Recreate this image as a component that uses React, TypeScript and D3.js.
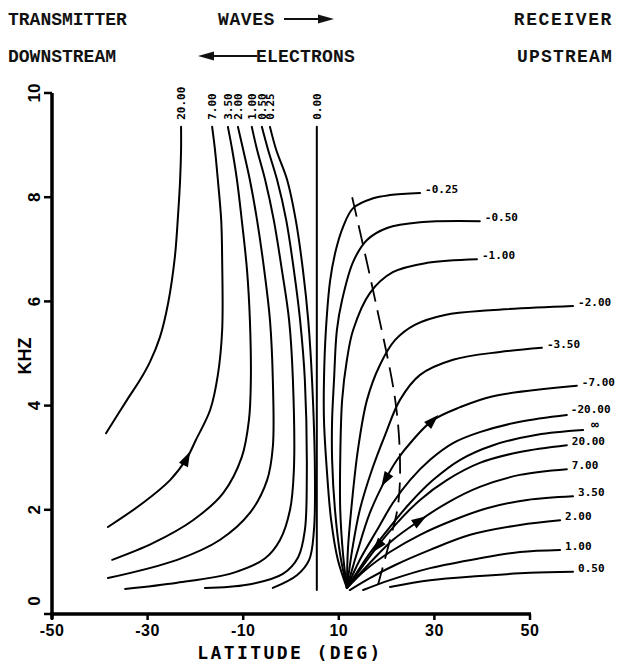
import React from "react";
import * as d3 from "d3";

type Pt = [number, number];

// ---- axes ----
const LAT_TICKS = [-50, -30, -10, 10, 30, 50];
const KHZ_TICKS = [0, 2, 4, 6, 8, 10];

// ---- header captions ----
const HEADER_LEFT = ["TRANSMITTER", "DOWNSTREAM"];
const HEADER_MID = ["WAVES", "ELECTRONS"];
const HEADER_RIGHT = ["RECEIVER", "UPSTREAM"];

// ---- contours that rise to the top edge (latitude deg, kHz) ----
const W_LABELS = ["20.00", "7.00", "3.50", "2.00", "1.00", "0.50", "0.25", "0.00"];
const W_2000: Pt[] = [[-23.0, 9.35], [-23.0, 8.91], [-23.2, 8.33], [-23.6, 7.7], [-24.3, 6.85], [-25.7, 5.97], [-27.4, 5.32], [-29.5, 4.84], [-31.6, 4.49], [-34.3, 4.11], [-38.7, 3.47]];
const W_700: Pt[] = [[-16.5, 9.35], [-15.9, 8.91], [-15.3, 8.33], [-14.6, 7.56], [-14.4, 6.79], [-14.4, 5.45], [-15.3, 4.59], [-16.9, 3.92], [-19.9, 3.34], [-21.8, 2.99], [-25.3, 2.57], [-31.0, 2.13], [-38.3, 1.67]];
const W_350: Pt[] = [[-13.2, 9.35], [-12.3, 8.91], [-11.3, 8.33], [-10.3, 7.56], [-9.2, 6.6], [-8.6, 5.64], [-8.4, 4.49], [-8.8, 3.72], [-10.3, 3.01], [-14.2, 2.32], [-20.5, 1.8], [-28.9, 1.36], [-37.4, 1.04]];
const W_200: Pt[] = [[-11.1, 9.35], [-10.0, 8.91], [-8.6, 8.33], [-7.1, 7.56], [-5.6, 6.6], [-4.4, 5.64], [-3.8, 4.49], [-3.8, 3.21], [-5.0, 2.57], [-8.6, 1.94], [-14.9, 1.42], [-23.8, 1.04], [-38.3, 0.69]];
const W_100: Pt[] = [[-8.2, 9.35], [-7.1, 8.91], [-5.4, 8.33], [-3.6, 7.56], [-1.9, 6.6], [-0.4, 5.64], [0.4, 4.49], [0.6, 2.76], [-0.2, 2.0], [-2.3, 1.42], [-5.4, 1.07], [-12.1, 0.79], [-23.8, 0.6], [-34.7, 0.48]];
const W_050: Pt[] = [[-6.1, 9.35], [-4.8, 8.91], [-2.9, 8.33], [-1.0, 7.56], [0.6, 6.6], [1.9, 5.64], [2.9, 4.49], [3.3, 2.57], [2.9, 1.61], [1.5, 1.09], [-1.7, 0.77], [-9.2, 0.56], [-18.0, 0.5]];
const W_025: Pt[] = [[-4.4, 9.35], [-3.1, 8.91], [-0.8, 8.33], [1.0, 7.56], [2.5, 6.6], [3.6, 5.64], [4.4, 4.49], [5.0, 2.76], [4.8, 1.61], [3.8, 1.04], [1.3, 0.75], [-3.8, 0.5]];
const W_000: Pt[] = [[5.4, 9.35], [5.4, 0.46]];

// ---- contours that fan out to the right edge ----
const E_LABELS = ["-0.25", "-0.50", "-1.00", "-2.00", "-3.50", "-7.00", "-20.00", "\u221E", "20.00", "7.00", "3.50", "2.00", "1.00", "0.50"];
const E_M025: Pt[] = [[11.7, 0.5], [9.8, 1.04], [8.4, 1.8], [7.5, 2.76], [6.9, 3.72], [6.9, 4.49], [7.3, 5.45], [8.2, 6.41], [9.4, 6.99], [10.9, 7.43], [13.0, 7.79], [17.2, 7.98], [20.7, 8.04], [27.0, 8.08]];
const E_M050: Pt[] = [[11.7, 0.5], [10.3, 1.13], [9.2, 2.0], [8.6, 2.96], [8.6, 3.72], [9.0, 4.49], [9.6, 5.45], [10.7, 6.03], [13.0, 6.76], [15.9, 7.18], [20.1, 7.41], [27.0, 7.52], [39.5, 7.54]];
const E_M100: Pt[] = [[11.7, 0.5], [10.9, 1.13], [10.3, 2.0], [10.3, 2.96], [10.7, 4.11], [11.7, 4.88], [13.0, 5.45], [16.5, 6.16], [21.3, 6.56], [28.5, 6.74], [38.9, 6.81]];
const E_M200: Pt[] = [[11.7, 0.5], [11.9, 1.23], [12.8, 2.19], [14.0, 3.15], [15.9, 4.11], [18.6, 4.78], [21.8, 5.26], [25.9, 5.55], [32.2, 5.74], [41.6, 5.83], [59.0, 5.91]];
const E_M350: Pt[] = [[11.7, 0.5], [12.8, 1.23], [14.4, 2.0], [16.9, 2.76], [19.7, 3.44], [22.8, 4.11], [27.0, 4.59], [33.9, 4.88], [43.7, 5.03], [52.5, 5.11]];
const E_M700: Pt[] = [[11.7, 0.5], [13.8, 1.17], [16.5, 1.94], [19.7, 2.57], [22.2, 2.96], [25.5, 3.34], [29.7, 3.72], [35.4, 3.97], [42.3, 4.18], [59.8, 4.38]];
const E_M2000: Pt[] = [[11.7, 0.5], [14.4, 1.04], [18.0, 1.61], [21.3, 2.13], [24.9, 2.57], [29.1, 2.96], [33.9, 3.28], [39.5, 3.49], [47.9, 3.69], [57.7, 3.82]];
const E_INF: Pt[] = [[11.7, 0.5], [16.5, 1.17], [20.7, 1.67], [24.9, 2.13], [29.7, 2.57], [35.4, 2.96], [42.3, 3.24], [51.5, 3.44], [61.1, 3.53]];
const E_P2000: Pt[] = [[11.7, 0.5], [18.0, 1.29], [22.2, 1.75], [27.0, 2.19], [32.6, 2.57], [39.5, 2.9], [47.9, 3.11], [57.7, 3.24]];
const E_P700: Pt[] = [[11.7, 0.5], [16.5, 0.98], [21.3, 1.42], [27.0, 1.8], [32.6, 2.13], [39.5, 2.44], [47.9, 2.67], [57.7, 2.78]];
const E_P350: Pt[] = [[11.7, 0.5], [15.5, 0.84], [20.7, 1.19], [27.0, 1.52], [33.9, 1.8], [41.0, 2.03], [49.4, 2.19], [59.0, 2.26]];
const E_P200: Pt[] = [[12.3, 0.46], [16.5, 0.69], [21.8, 0.94], [29.1, 1.23], [37.5, 1.52], [47.9, 1.71], [56.3, 1.8]];
const E_P100: Pt[] = [[15.1, 0.46], [20.7, 0.65], [29.1, 0.88], [39.5, 1.07], [47.9, 1.19], [56.3, 1.23]];
const E_P050: Pt[] = [[20.7, 0.52], [29.1, 0.65], [39.5, 0.73], [50.0, 0.79], [59.0, 0.81]];

// ---- dashed boundary ----
const DASHED: Pt[] = [[12.8, 8.0], [17.6, 6.03], [21.8, 4.11], [22.8, 2.96], [22.4, 2.09], [20.7, 1.42], [18.2, 0.56]];

const WEST: Pt[][] = [W_2000, W_700, W_350, W_200, W_100, W_050, W_025, W_000];
const EAST: Pt[][] = [E_M025, E_M050, E_M100, E_M200, E_M350, E_M700, E_M2000, E_INF, E_P2000, E_P700, E_P350, E_P200, E_P100, E_P050];

// arrowheads: curve, location, +1 = toward the end of the list, -1 = toward its start
const ARROWS: { pts: Pt[]; at: Pt; dir: number }[] = [
  { pts: W_700, at: [-21.8, 2.99], dir: -1 },
  { pts: E_M700, at: [29.7, 3.72], dir: 1 },
  { pts: E_M700, at: [19.7, 2.57], dir: -1 },
  { pts: E_P700, at: [27.0, 1.8], dir: 1 },
  { pts: E_P2000, at: [18.0, 1.29], dir: -1 },
];

const W = 620;
const H = 664;
const X0 = 52, X1 = 530, Y0 = 614, Y1 = 93;

const x = d3.scaleLinear().domain([-50, 50]).range([X0, X1]);
const y = d3.scaleLinear().domain([0, 10]).range([Y0, Y1]);

const line = d3
  .line<Pt>()
  .x((d) => x(d[0]))
  .y((d) => y(d[1]))
  .curve(d3.curveCatmullRom.alpha(0.5));

const MONO = "'DejaVu Sans Mono', monospace";
const SANS = "'Liberation Sans', Arial, sans-serif";
const TYPE = "'Liberation Mono', 'Courier New', monospace";

function arrowHead(pts: Pt[], at: Pt, dir: number) {
  // nearest segment gives the local direction
  let best = 0;
  let bd = Infinity;
  for (let i = 0; i < pts.length - 1; i++) {
    const mx = (pts[i][0] + pts[i + 1][0]) / 2;
    const my = (pts[i][1] + pts[i + 1][1]) / 2;
    const dd = (x(mx) - x(at[0])) ** 2 + (y(my) - y(at[1])) ** 2;
    if (dd < bd) {
      bd = dd;
      best = i;
    }
  }
  const a = pts[best];
  const b = pts[best + 1];
  let dx = x(b[0]) - x(a[0]);
  let dy = y(b[1]) - y(a[1]);
  const len = Math.hypot(dx, dy) || 1;
  dx = (dx / len) * dir;
  dy = (dy / len) * dir;
  const cx = x(at[0]);
  const cy = y(at[1]);
  const L = 15;
  const Wd = 5;
  const tip: Pt = [cx + dx * L * 0.5, cy + dy * L * 0.5];
  const back: Pt = [cx - dx * L * 0.5, cy - dy * L * 0.5];
  const p1: Pt = [back[0] - dy * Wd, back[1] + dx * Wd];
  const p2: Pt = [back[0] + dy * Wd, back[1] - dx * Wd];
  return `M${tip[0]},${tip[1]}L${p1[0]},${p1[1]}L${p2[0]},${p2[1]}Z`;
}

const EAST_LABEL_SHIFT: Record<string, [number, number]> = {
  "\u221E": [8, -5],
  "-20.00": [4, -5],
};

export default function App() {
  return (
    <svg
      width={W}
      height={H}
      viewBox={`0 0 ${W} ${H}`}
      style={{ position: "absolute", left: 0, top: 0, background: "#fff" }}
    >
      <rect width={W} height={H} fill="#fff" />

      {/* header */}
      <g fontFamily={TYPE} fontWeight="bold" fontSize={18} fill="#111">
        <text x={8} y={25}>{HEADER_LEFT[0]}</text>
        <text x={8} y={62}>{HEADER_LEFT[1]}</text>
        <text x={218} y={25} letterSpacing={0.6}>{HEADER_MID[0]}</text>
        <text x={256} y={62} letterSpacing={0.2}>{HEADER_MID[1]}</text>
        <text x={613} y={25} textAnchor="end" letterSpacing={1.6}>{HEADER_RIGHT[0]}</text>
        <text x={613} y={62} textAnchor="end" letterSpacing={1.2}>{HEADER_RIGHT[1]}</text>
      </g>
      <g stroke="#111" strokeWidth={2.2}>
        <line x1={284} y1={19} x2={322} y2={19} />
        <line x1={210} y1={56} x2={257} y2={56} />
      </g>
      <path d="M334,19 L318,14.5 L318,23.5 Z" fill="#111" />
      <path d="M198,56 L214,51.5 L214,60.5 Z" fill="#111" />

      {/* axes */}
      <g stroke="#000" strokeWidth={3.5} fill="none">
        <line x1={X0} y1={Y1} x2={X0} y2={Y0 + 5} />
        <line x1={X0 - 1.5} y1={Y0} x2={X1 + 1} y2={Y0} />
      </g>
      <g stroke="#000" strokeWidth={2.5}>
        {KHZ_TICKS.map((t) => (
          <line key={t} x1={X0 - 8} x2={X0} y1={y(t)} y2={y(t)} />
        ))}
        {LAT_TICKS.map((t) => (
          <line key={t} x1={x(t)} x2={x(t)} y1={Y0} y2={Y0 + 6} />
        ))}
      </g>
      <g fontFamily={SANS} fontWeight="bold" fontSize={17} fill="#000">
        {KHZ_TICKS.map((t) => (
          <text
            key={t}
            transform={`translate(${40},${y(t) - (t === 0 ? 13 : 0)}) rotate(-90)`}
            textAnchor="middle"
          >
            {t}
          </text>
        ))}
        {LAT_TICKS.map((t) => (
          <text key={t} x={x(t)} y={636} textAnchor="middle" fontSize={16} letterSpacing={0.5}>
            {t}
          </text>
        ))}
        <text transform={`translate(31,356) rotate(-90)`} textAnchor="middle" fontSize={18}>
          KHZ
        </text>
      </g>
      <text
        x={290}
        y={659}
        textAnchor="middle"
        fontFamily={MONO}
        fontWeight="bold"
        fontSize={18}
        letterSpacing={2.4}
      >
        LATITUDE (DEG)
      </text>

      {/* contours */}
      <g fill="none" stroke="#000" strokeWidth={2} strokeLinecap="round">
        {WEST.map((c, i) => (
          <path key={`w${i}`} d={line(c) || ""} />
        ))}
        {EAST.map((c, i) => (
          <path key={`e${i}`} d={line(c) || ""} />
        ))}
        <path d={line(DASHED) || ""} strokeDasharray="20 9" strokeWidth={1.8} strokeLinecap="butt" />
      </g>

      {ARROWS.map((a, i) => (
        <path key={i} d={arrowHead(a.pts, a.at, a.dir)} fill="#000" />
      ))}

      {/* contour labels */}
      <g fontFamily={MONO} fontWeight="bold" fontSize={11} fill="#000">
        {WEST.map((c, i) => (
          <text
            key={`wl${i}`}
            transform={`translate(${x(c[0][0]) + 4},${y(c[0][1]) - 7}) rotate(-90)`}
          >
            {W_LABELS[i]}
          </text>
        ))}
        {EAST.map((c, i) => {
          const last = c[c.length - 1];
          const s = EAST_LABEL_SHIFT[E_LABELS[i]] || [5, -3];
          return (
            <text
              key={`el${i}`}
              x={x(last[0]) + s[0]}
              y={y(last[1]) + s[1]}
              dominantBaseline="middle"
              fontSize={E_LABELS[i] === "\u221E" ? 13 : 11}
            >
              {E_LABELS[i]}
            </text>
          );
        })}
      </g>
    </svg>
  );
}
